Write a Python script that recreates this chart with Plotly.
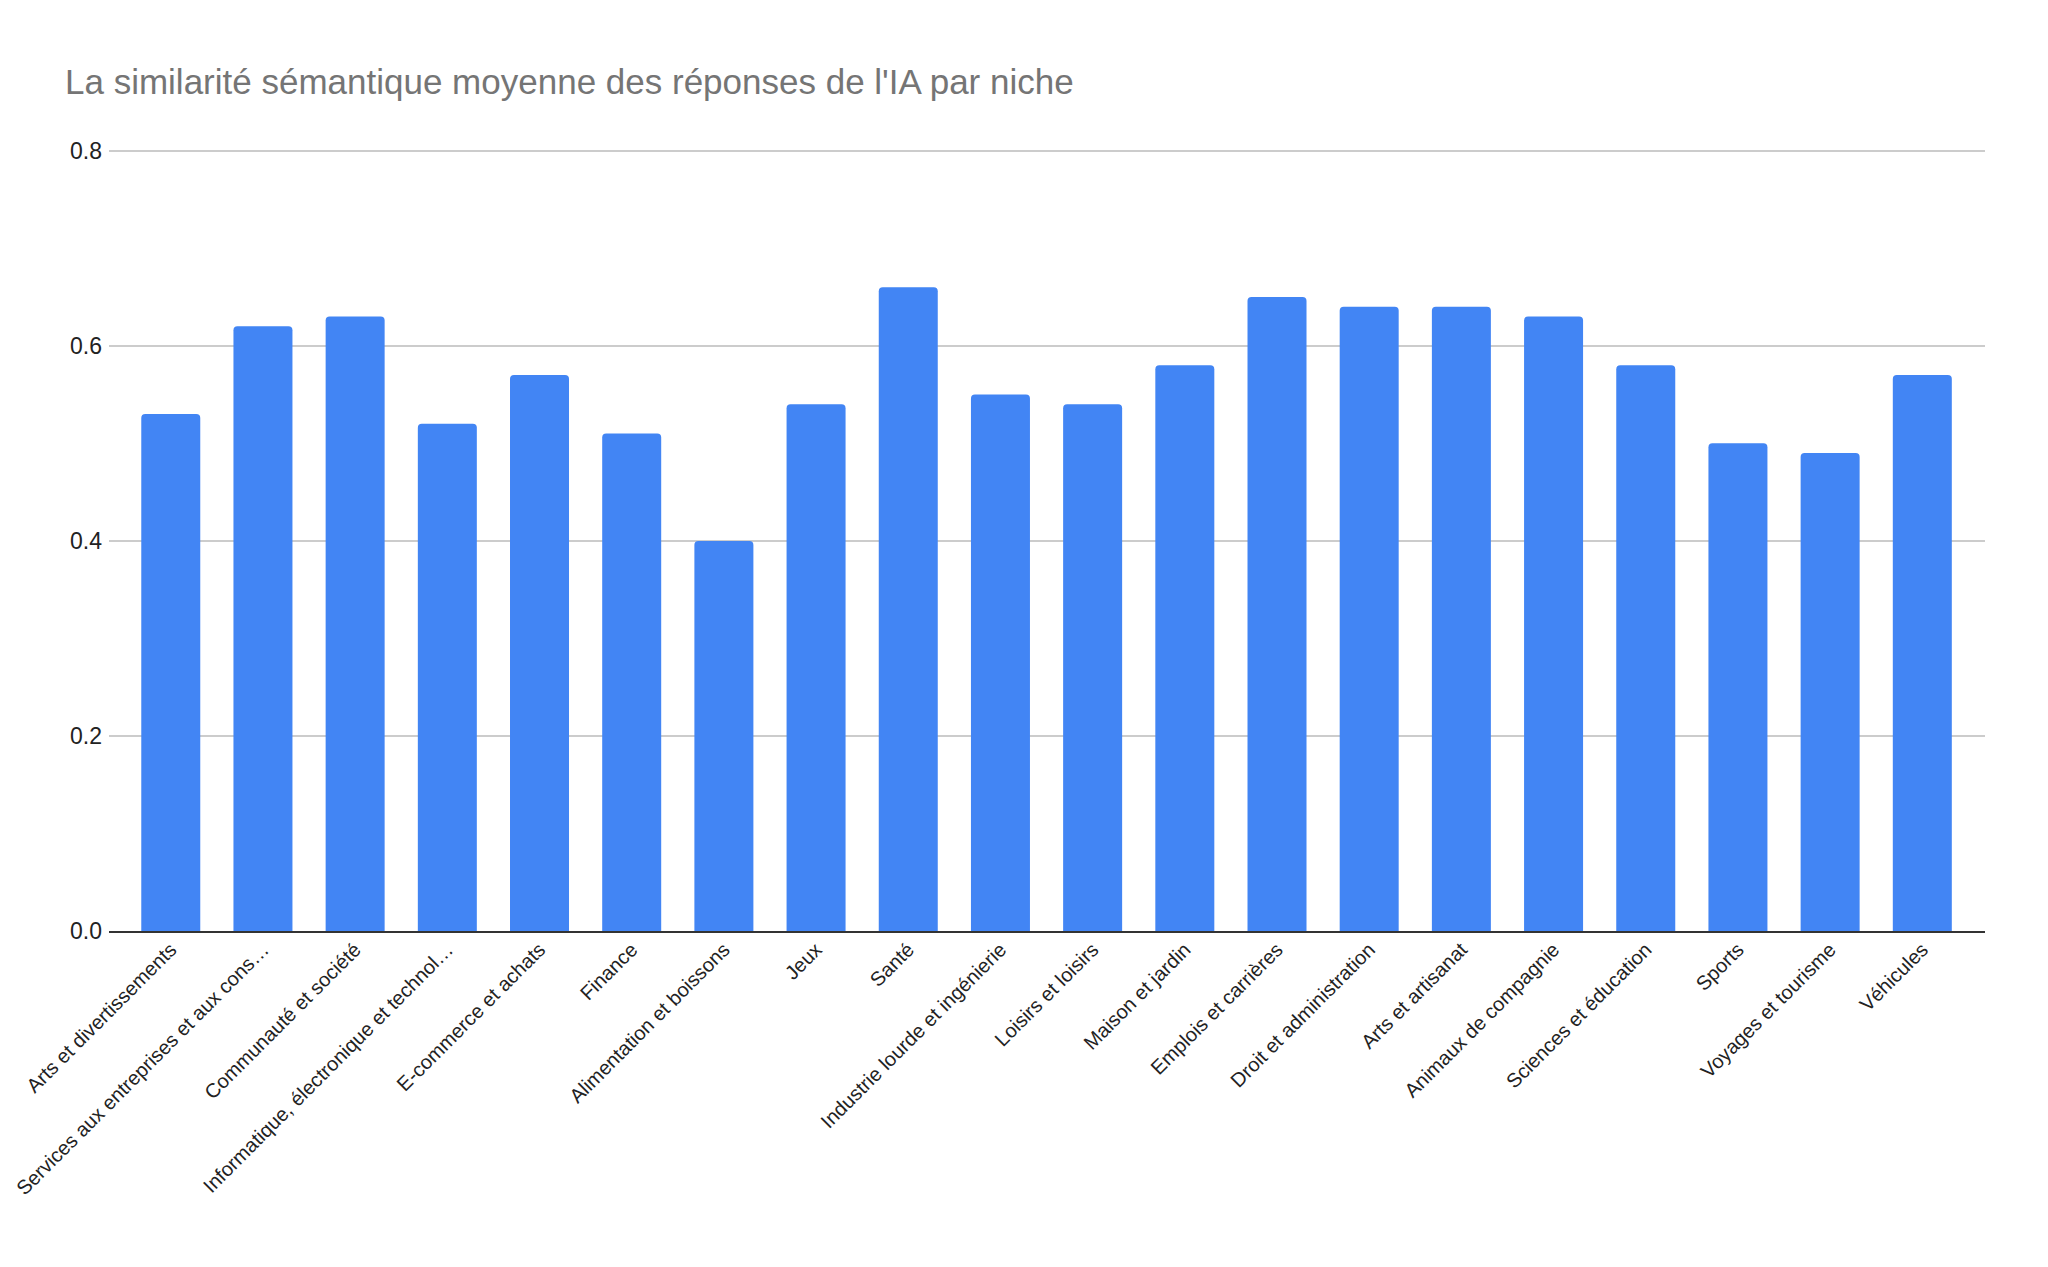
import plotly.graph_objects as go

# niches (x categories), labels are cut like in the sheet
niches = [
    "Arts et divertissements",
    "Services aux entreprises et aux cons…",
    "Communauté et société",
    "Informatique, électronique et technol…",
    "E-commerce et achats",
    "Finance",
    "Alimentation et boissons",
    "Jeux",
    "Santé",
    "Industrie lourde et ingénierie",
    "Loisirs et loisirs",
    "Maison et jardin",
    "Emplois et carrières",
    "Droit et administration",
    "Arts et artisanat",
    "Animaux de compagnie",
    "Sciences et éducation",
    "Sports",
    "Voyages et tourisme",
    "Véhicules",
]

# mean semantic similarity per niche
similarite = [0.53, 0.62, 0.63, 0.52, 0.57, 0.51, 0.40, 0.54, 0.66, 0.55,
              0.54, 0.58, 0.65, 0.64, 0.64, 0.63, 0.58, 0.50, 0.49, 0.57]

y_ticks = [0.0, 0.2, 0.4, 0.6, 0.8]
y_labels = ["0.0", "0.2", "0.4", "0.6", "0.8"]

fig = go.Figure()
fig.add_trace(go.Bar(
    x=list(range(len(niches))),
    y=similarite,
    marker=dict(color="#4285F4", line=dict(width=0), cornerradius=4),
    hoverinfo="skip",
))

# page has ~8px body margin, so margins are shifted by that
# y range goes a bit past 0.8 so the top gridline is drawn
fig.update_layout(
    width=2048,
    height=1267,
    paper_bgcolor="white",
    plot_bgcolor="white",
    margin=dict(l=101, r=71, t=133, b=344),
    bargap=0.36,
    showlegend=False,
    font=dict(family="Liberation Sans, Arial, sans-serif", size=20, color="#222222"),
    title=dict(
        text="La similarité sémantique moyenne des réponses de l'IA par niche",
        font=dict(family="Liberation Sans, Arial, sans-serif", size=35, color="#757575"),
        xref="container", x=57 / 2048, xanchor="left",
        yref="container", y=1 - 74 / 1267, yanchor="middle",
    ),
)

fig.update_xaxes(
    tickmode="array",
    tickvals=list(range(len(niches))),
    ticktext=niches,
    tickangle=-45,
    ticklabeloverflow="allow",
    ticklabelstandoff=-3,
    automargin=False,
    range=[-0.67, len(niches) - 1 + 0.68],
    showgrid=False,
    showline=True,
    linecolor="#333333",
    linewidth=2,
    ticks="",
    zeroline=False,
    tickfont=dict(size=20, color="#222222"),
)

fig.update_yaxes(
    range=[0, 0.81],
    tickmode="array",
    tickvals=y_ticks,
    ticktext=y_labels,
    automargin=False,
    ticklabelstandoff=6,
    showgrid=True,
    gridcolor="#cccccc",
    gridwidth=1.5,
    zeroline=False,
    showline=False,
    ticks="",
    tickfont=dict(size=23, color="#222222"),
)

fig.write_html("out.html")
